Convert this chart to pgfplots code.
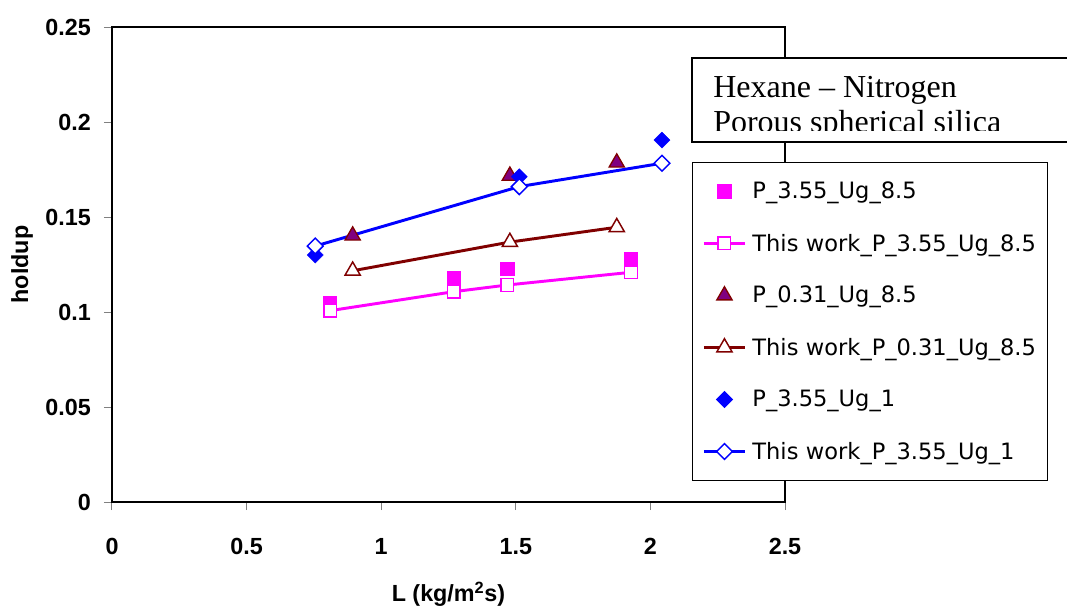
\documentclass[border=0pt]{standalone}
\usepackage{pgfplots}
\pgfplotsset{compat=1.18}
\usepackage{fontspec}
\setmainfont{Liberation Sans}
\newfontfamily\verdanafont{DejaVu Sans}
\newfontfamily\timesfont{Liberation Serif}
\definecolor{mag}{RGB}{255,0,255}
\definecolor{maroonc}{RGB}{128,0,0}
\definecolor{purp}{RGB}{128,0,128}
\definecolor{blu}{RGB}{0,0,255}
\begin{document}
\begin{tikzpicture}[x=0.75pt,y=0.75pt]
\useasboundingbox (0,0) rectangle (1067,607);
\begin{axis}[
  at={(84pt,78.75pt)}, anchor=south west,
  width=504.75pt, height=356.25pt, scale only axis,
  xmin=0, xmax=2.5, ymin=0, ymax=0.25,
  xtick={0,0.5,1,1.5,2,2.5}, xticklabels={0,0.5,1,1.5,2,2.5},
  ytick={0,0.05,0.1,0.15,0.2,0.25}, yticklabels={0,0.05,0.1,0.15,0.2,0.25},
  tick align=outside, major tick length=6pt, tick pos=left,
  tick style={gray, line width=0.75pt},
  axis line style={black, line width=1.1pt},
  tick label style={font=\bfseries\fontsize{17.5}{20}\selectfont, inner sep=0pt},
  yticklabel style={anchor=east, xshift=-9.75pt},
  xticklabel style={anchor=north, yshift=-21pt},
  xlabel={L (kg/m\textsuperscript{2}s)},
  xlabel style={at={(axis description cs:0.5,-0.2105)}, anchor=base, inner sep=0pt, font=\bfseries\fontsize{17.5}{20}\selectfont},
  ylabel={holdup},
  ylabel style={at={(axis description cs:-0.1337,0.5)}, anchor=center, inner sep=0pt, font=\bfseries\fontsize{17.5}{20}\selectfont},
  legend cell align=left,
  legend image code/.code={\draw[mark repeat=2, mark phase=2, #1] plot coordinates {(0pt,0pt) (15.375pt,0pt) (30.75pt,0pt)};},
  legend style={at={(rel axis cs:0.8618,0.7158)}, anchor=north west, draw=black, line width=0.75pt, fill=white,
    font=\verdanafont\fontsize{16.9}{20}\selectfont, inner xsep=7.5pt, inner ysep=2.25pt, row sep=0pt, column sep=4.5pt,
    nodes={inner sep=0pt, minimum height=39pt, text width=213.75pt}},
]
\addplot[only marks, mark=square*, mark size=5pt, color=mag] coordinates {(0.81,0.105) (1.27,0.118) (1.468,0.1226) (1.928,0.128)};
\addplot[color=mag, line width=2.2pt, mark=square*, mark size=4.7pt, mark options={solid, fill=white, draw=mag, line width=1.1pt}] coordinates {(0.81,0.1007) (1.27,0.1107) (1.468,0.1142) (1.928,0.1209)};
\addplot[only marks, mark=triangle*, mark size=6.6pt, draw=maroonc, fill=purp, mark options={line width=1pt}] coordinates {(0.894,0.1402) (1.478,0.1717) (1.875,0.1786)};
\addplot[color=maroonc, line width=2.2pt, mark=triangle*, mark size=6.6pt, mark options={solid, fill=white, line width=1.1pt}] coordinates {(0.894,0.1217) (1.478,0.1368) (1.875,0.1446)};
\addplot[only marks, mark=square*, mark size=4.2pt, mark options={rotate=45}, color=blu] coordinates {(0.755,0.130) (1.513,0.1712) (2.043,0.1905)};
\addplot[color=blu, line width=2.2pt, mark=square*, mark size=4.2pt, mark options={solid, rotate=45, fill=white, line width=1.1pt}] coordinates {(0.755,0.1347) (1.513,0.166) (2.043,0.1783)};
\legend{P\_3.55\_Ug\_8.5, This work\_P\_3.55\_Ug\_8.5, P\_0.31\_Ug\_8.5, This work\_P\_0.31\_Ug\_8.5, P\_3.55\_Ug\_1, This work\_P\_3.55\_Ug\_1}
\end{axis}
\fill[white] (692,465) rectangle (1080,549);
\begin{scope}
\clip (692,476) rectangle (1080,549);
\node[anchor=base west, inner sep=0pt, font=\timesfont\fontsize{24}{26}\selectfont] at (713,509) {Hexane – Nitrogen};
\node[anchor=base west, inner sep=0pt, font=\timesfont\fontsize{24}{26}\selectfont] at (713,474) {Porous spherical silica};
\end{scope}
\draw[line width=1.5pt] (692,465) rectangle (1080,549);
\end{tikzpicture}
\end{document}
